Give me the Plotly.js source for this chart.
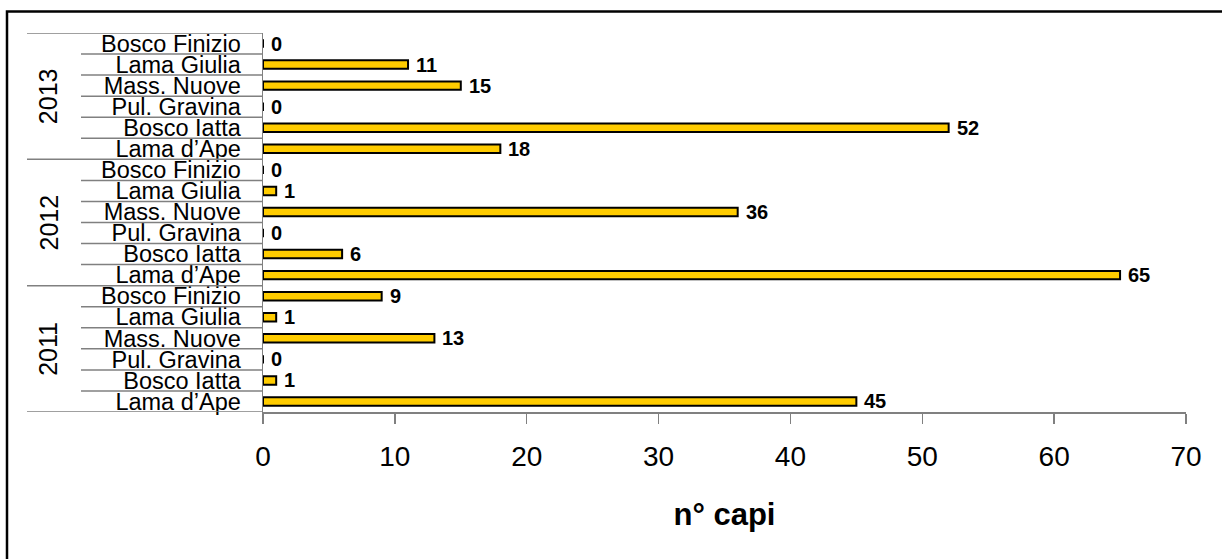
<!DOCTYPE html>
<html>
<head>
<meta charset="utf-8">
<script src="https://cdn.plot.ly/plotly-3.0.1.min.js"></script>
<style>
  html, body { margin: 0; padding: 0; background: #fff; }
  #chart { width: 1222px; height: 559px; }
</style>
</head>
<body>
<div id="chart"></div>
<script>
// Sites counted each year, bottom to top within a year block
const years = ['2011', '2012', '2013'];
const sites = ['Lama d\u2019Ape', 'Bosco Iatta', 'Pul. Gravina', 'Mass. Nuove', 'Lama Giulia', 'Bosco Finizio'];
const counts2011 = [45, 1, 0, 13, 1, 9];
const counts2012 = [65, 6, 0, 36, 1, 0];
const counts2013 = [18, 52, 0, 15, 11, 0];
const xTicks = [0, 10, 20, 30, 40, 50, 60, 70];

const countsByYear = [counts2011, counts2012, counts2013];

// One row per (year, site); row index is the position on the y axis
const rowPos = [], rowLabel = [], rowValue = [];
years.forEach((yr, g) => {
  sites.forEach((s, i) => {
    rowPos.push(g * sites.length + i);
    rowLabel.push(s);
    rowValue.push(countsByYear[g][i]);
  });
});
const nRows = rowPos.length;

const FONT = '"Liberation Sans", Arial, sans-serif';
const GRID = '#808080';

// Plot area geometry (pixels) used to express the left-hand label table in paper units
const plotL = 263, plotR = 1186;
const pw = plotR - plotL;
const px = v => (v - plotL) / pw;

const shapes = [];
// Row separator lines in the label table; year blocks get longer lines
for (let k = 0; k <= nRows; k++) {
  const isGroup = k % sites.length === 0;
  shapes.push({
    type: 'line', xref: 'paper', yref: 'y',
    x0: isGroup ? px(27) : px(81), x1: 0,
    y0: k - 0.5, y1: k - 0.5,
    line: { color: GRID, width: 1.5 }
  });
}
// Frame around the whole chart
shapes.push({
  type: 'rect', xref: 'paper', yref: 'paper',
  x0: px(7), x1: 1.2, y0: -1, y1: 1 + (32.5 - 11) / (412 - 32.5),
  line: { color: '#000', width: 2.5 }, fillcolor: 'rgba(0,0,0,0)', layer: 'below'
});

const annotations = [];
// Value labels at the end of each bar
rowPos.forEach((p, i) => {
  annotations.push({
    x: rowValue[i], y: p, xref: 'x', yref: 'y',
    text: String(rowValue[i]), showarrow: false,
    xanchor: 'left', yanchor: 'middle', xshift: 6,
    font: { family: FONT, size: 20, color: '#000', weight: 'bold' }
  });
});
// Year labels, rotated, centred on each block
years.forEach((yr, g) => {
  annotations.push({
    x: px(48), y: g * sites.length + (sites.length - 1) / 2,
    xref: 'paper', yref: 'y',
    text: yr, showarrow: false, textangle: -90,
    xanchor: 'center', yanchor: 'middle',
    font: { family: FONT, size: 25, color: '#000' }
  });
});

const trace = {
  type: 'bar', orientation: 'h',
  x: rowValue, y: rowPos,
  width: 0.4,
  marker: { color: '#FFCC00', line: { color: '#000', width: 2 } },
  hoverinfo: 'skip',
  cliponaxis: false
};

const layout = {
  width: 1222, height: 559,
  margin: { l: plotL, r: 1222 - plotR, t: 32.5, b: 559 - 412 },
  paper_bgcolor: '#fff', plot_bgcolor: '#fff',
  showlegend: false,
  font: { family: FONT, color: '#000' },
  xaxis: {
    range: [0, 70], tickvals: xTicks, ticktext: xTicks.map(String),
    showgrid: false, zeroline: false,
    showline: true, linecolor: GRID, linewidth: 1.5,
    ticks: 'outside', ticklen: 10, tickwidth: 1.5, tickcolor: GRID,
    ticklabelstandoff: 9,
    tickfont: { family: FONT, size: 28, color: '#000' },
    title: { text: 'n\u00b0 capi', standoff: 32,
             font: { family: FONT, size: 31, color: '#000', weight: 'bold' } },
    fixedrange: true
  },
  yaxis: {
    range: [-0.5, nRows - 0.5],
    tickvals: rowPos, ticktext: rowLabel,
    showgrid: false, zeroline: false,
    showline: true, linecolor: GRID, linewidth: 1.5,
    ticks: '', ticklabelstandoff: 16,
    tickfont: { family: FONT, size: 23.5, color: '#000' },
    fixedrange: true
  },
  shapes: shapes,
  annotations: annotations
};

Plotly.newPlot('chart', [trace], layout, { displayModeBar: false, staticPlot: true });
</script>
</body>
</html>
